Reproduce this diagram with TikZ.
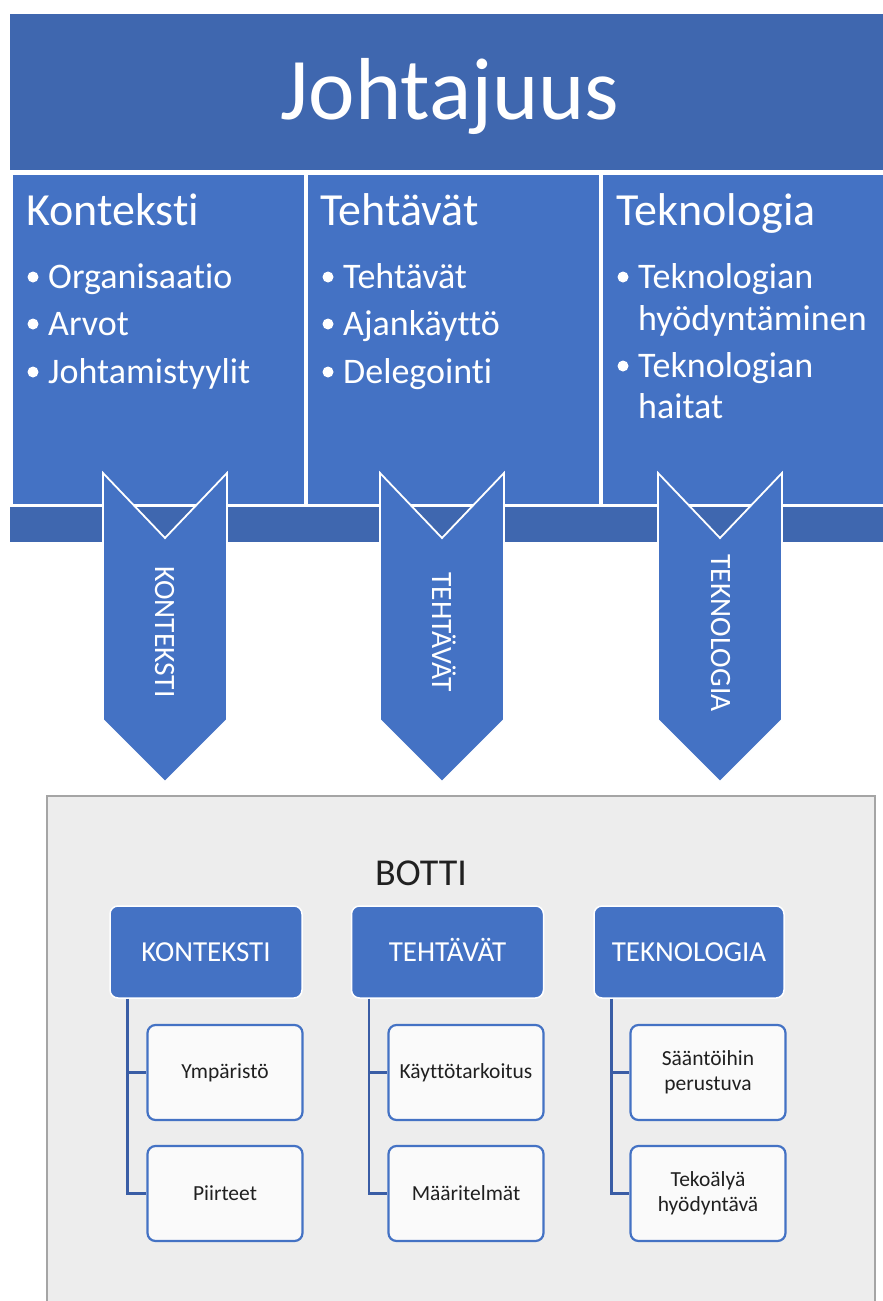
\documentclass[tikz,border=0pt]{standalone}
\usepackage{fontspec}
\setmainfont{Carlito}[Ligatures=NoCommon]
\definecolor{darkblue}{HTML}{3F67AF}
\definecolor{accent}{HTML}{4472C4}
\definecolor{conncol}{HTML}{3A5DA5}
\definecolor{boxgray}{HTML}{EDEDED}
\definecolor{graybord}{HTML}{A5A5A5}
\definecolor{textdark}{HTML}{202020}
\tikzset{
 colbox/.style={fill=accent, draw=white, line width=1.5pt},
 darkbar/.style={fill=darkblue, draw=white, line width=1.2pt},
 chev/.style={fill=accent, draw=white, line width=1.8pt, line join=miter},
 chevtext/.style={text=white, font=\fontsize{29.5}{30}\selectfont, rotate=-90, anchor=base, inner sep=0pt},
 titletext/.style={text=white, font=\fontsize{88}{90}\selectfont, anchor=base, inner sep=0pt},
 head/.style={text=white, font=\fontsize{46}{50}\selectfont, anchor=base west, inner sep=0pt},
 item/.style={text=white, font=\fontsize{36}{40}\selectfont, anchor=base west, inner sep=0pt},
 dot/.style={circle, fill=white, minimum size=11pt, inner sep=0pt},
 lvlone/.style={fill=accent, draw=white, line width=1.5pt, rounded corners=8pt, minimum width=192pt, minimum height=92pt, text=white, font=\fontsize{29}{32}\selectfont, inner sep=0pt, text height=18.7pt, text depth=0pt},
 lvltwo/.style={fill=white!98!black, draw=accent, line width=2.2pt, rounded corners=8pt, minimum width=155pt, minimum height=95pt, text=textdark, font=\fontsize{21.5}{25}\selectfont, align=center, inner sep=0pt},
 conn/.style={draw=conncol, line width=2.5pt},
}
\begin{document}
\begin{tikzpicture}[x=1pt,y=-1pt]
\useasboundingbox (0,0) rectangle (883,1301);
\clip (0,0) rectangle (883,1301);
\fill[white] (0,0) rectangle (883,1301);

% top banner
\path[darkbar] (9,13) rectangle (895,171);
\node[titletext] (title) at (450,119) {Johtajuus};

% columns
\path[colbox] (12,174) rectangle (305,505);
\path[colbox] (307,174) rectangle (600,505);
\path[colbox] (602,174) rectangle (895,505);
% band
\path[darkbar] (9,506) rectangle (895,543);

% column 1
\node[head] (h1) at (26,225) {Konteksti};
\node[dot] (d11) at (33,277) {};
\node[item] (i11) at (48,288) {Organisaatio};
\node[dot] (d12) at (33,324) {};
\node[item] (i12) at (48,335) {Arvot};
\node[dot] (d13) at (33,372) {};
\node[item] (i13) at (48,383) {Johtamistyylit};

% column 2
\node[head] (h2) at (320,225) {Tehtävät};
\node[dot] (d21) at (328,277) {};
\node[item] (i21) at (343,288) {Tehtävät};
\node[dot] (d22) at (328,324) {};
\node[item] (i22) at (343,335) {Ajankäyttö};
\node[dot] (d23) at (328,372) {};
\node[item] (i23) at (343,383) {Delegointi};

% column 3
\node[head] (h3) at (616,225) {Teknologia};
\node[dot] (d31) at (623,277) {};
\node[item] (i31) at (638,288) {Teknologian};
\node[item] (i31b) at (638,330) {hyödyntäminen};
\node[dot] (d32) at (623,366) {};
\node[item] (i32) at (638,377) {Teknologian};
\node[item] (i32b) at (638,418) {haitat};

% chevrons
\path[chev] (103,473) -- (165,538) -- (227,473) -- (227,720) -- (165,782) -- (103,720) -- cycle;
\path[chev] (380,473) -- (442,538) -- (504,473) -- (504,720) -- (442,782) -- (380,720) -- cycle;
\path[chev] (658,473) -- (720,538) -- (782,473) -- (782,720) -- (720,782) -- (658,720) -- cycle;
\node[chevtext] (c1) at (155,632) {KONTEKSTI};
\node[chevtext] (c2) at (432,632) {TEHTÄVÄT};
\node[chevtext] (c3) at (711,633) {TEKNOLOGIA};

% bottom gray box
\fill[boxgray] (47,796) rectangle (875,1310);
\draw[graybord, line width=2pt] (47,1310) -- (47,796) -- (875,796) -- (875,1310);
\node[text=textdark, font=\fontsize{38}{40}\selectfont, anchor=base, inner sep=0pt] (botti) at (421,885) {BOTTI};

% level one
\node[lvlone] (k) at (206,952) {KONTEKSTI};
\node[lvlone] (t) at (447.5,952) {TEHTÄVÄT};
\node[lvlone, minimum width=190pt] (g) at (689,952) {TEKNOLOGIA};

% level two
\node[lvltwo] (ka) at (225,1072.5) {Ympäristö};
\node[lvltwo] (kb) at (225,1193.5) {Piirteet};
\node[lvltwo] (ta) at (466,1072.5) {Käyttötarkoitus};
\node[lvltwo] (tb) at (466,1193.5) {Määritelmät};
\node[lvltwo] (ga) at (708,1072.5) {Sääntöihin\\perustuva};
\node[lvltwo] (gb) at (708,1193.5) {Tekoälyä\\hyödyntävä};

% connectors
\draw[conn] ([xshift=18pt]k.south west) |- (ka.west);
\draw[conn] ([xshift=18pt]k.south west) |- (kb.west);
\draw[conn] ([xshift=18pt]t.south west) |- (ta.west);
\draw[conn] ([xshift=18pt]t.south west) |- (tb.west);
\draw[conn] ([xshift=18pt]g.south west) |- (ga.west);
\draw[conn] ([xshift=18pt]g.south west) |- (gb.west);
\end{tikzpicture}
\end{document}
